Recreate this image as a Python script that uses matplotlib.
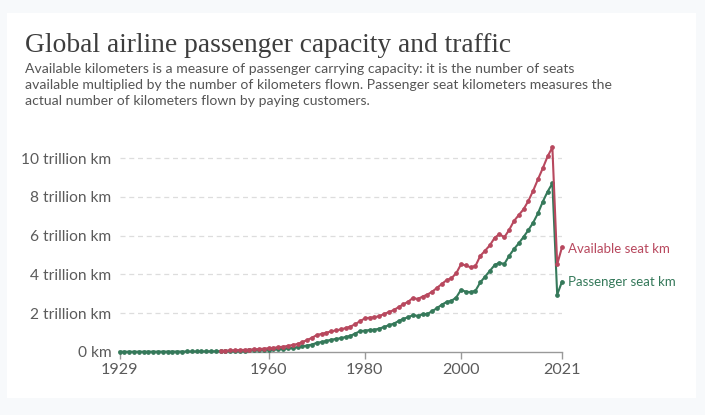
import matplotlib.pyplot as plt
from matplotlib.patches import Rectangle

# years 1929..2021
years = list(range(1929, 2022))

# passenger seat km, trillion km (1929-2021)
passenger_km = [
    0.001, 0.001, 0.002, 0.002, 0.003, 0.003, 0.004, 0.005, 0.006, 0.007,
    0.008, 0.009, 0.010, 0.010, 0.011, 0.012, 0.014, 0.017, 0.020, 0.022,
    0.025, 0.028, 0.035, 0.040, 0.047, 0.053, 0.061, 0.071, 0.081, 0.085,
    0.098, 0.109, 0.117, 0.130, 0.147, 0.171, 0.198, 0.229, 0.280, 0.320,
    0.366, 0.460, 0.500, 0.560, 0.620, 0.660, 0.700, 0.760, 0.820, 0.940,
    1.060, 1.090, 1.120, 1.140, 1.190, 1.280, 1.370, 1.450, 1.580, 1.700,
    1.780, 1.890, 1.850, 1.930, 1.950, 2.100, 2.250, 2.430, 2.570, 2.630,
    2.800, 3.200, 3.100, 3.080, 3.150, 3.580, 3.880, 4.180, 4.480, 4.600,
    4.530, 4.950, 5.300, 5.600, 5.930, 6.280, 6.670, 7.150, 7.750, 8.270,
    8.700, 2.950, 3.620,
]

# available seat km, trillion km (1950-2021)
available_years = list(range(1950, 2022))
available_km = [
    0.045, 0.055, 0.065, 0.075, 0.085, 0.095, 0.110, 0.125, 0.135, 0.160,
    0.180, 0.200, 0.230, 0.260, 0.300, 0.350, 0.400, 0.500, 0.600, 0.720,
    0.860, 0.920, 0.980, 1.050, 1.100, 1.150, 1.220, 1.300, 1.420, 1.580,
    1.720, 1.760, 1.780, 1.840, 1.950, 2.050, 2.150, 2.300, 2.450, 2.580,
    2.780, 2.720, 2.850, 2.950, 3.100, 3.300, 3.500, 3.700, 3.800, 4.050,
    4.520, 4.460, 4.360, 4.430, 4.950, 5.220, 5.500, 5.890, 6.080, 5.910,
    6.290, 6.750, 7.060, 7.360, 7.790, 8.320, 8.910, 9.480, 10.090, 10.560,
    4.520, 5.400,
]

x_ticks = [1929, 1960, 1980, 2000, 2021]
y_ticks = [0, 2, 4, 6, 8, 10]
y_labels = ['0 km', '2 trillion km', '4 trillion km', '6 trillion km',
            '8 trillion km', '10 trillion km']

red = '#b8485e'
green = '#35795a'
grey = '#5b5b5b'

W, H = 705, 415
fig = plt.figure(figsize=(W / 100, H / 100), dpi=100)
fig.patch.set_facecolor('#f7f9fb')
fig.patches.append(Rectangle((7 / W, 1 - 398 / H), 689 / W, 385 / H,
                             transform=fig.transFigure, facecolor='white',
                             edgecolor='none', zorder=-1))

fig.text(25 / W, 1 - 46 / H, 'Global airline passenger capacity and traffic',
         family='Liberation Serif', fontsize=19.8, color='#3d3d3d', va='center')
subtitle = ('Available kilometers is a measure of passenger carrying capacity: it is the number of seats\n'
            'available multiplied by the number of kilometers flown. Passenger seat kilometers measures the\n'
            'actual number of kilometers flown by paying customers.')
fig.text(25 / W, 1 - 63 / H, subtitle, family='Lato', fontsize=10.1,
         color='#555555', va='top', linespacing=1.42)

ax_left, ax_right = 119.6, 562
ax_bottom, ax_top = 351.7, 146.6
ax = fig.add_axes([ax_left / W, 1 - ax_bottom / H,
                   (ax_right - ax_left) / W, (ax_bottom - ax_top) / H])
ax.set_facecolor('none')
ax.set_zorder(2)

ax.plot(years, passenger_km, color=green, lw=1.5, marker='o', ms=2.4,
        clip_on=False, zorder=3)
ax.plot(available_years, available_km, color=red, lw=1.5, marker='o', ms=2.4,
        clip_on=False, zorder=4)

ax.set_xlim(1929, 2021)
ax.set_ylim(0, 10.6)

ax.set_yticks(y_ticks)
ax.set_yticklabels(y_labels, family='Lato', fontsize=11.2, color=grey)
ax.set_xticks(x_ticks)
ax.set_xticklabels([str(t) for t in x_ticks], family='Lato', fontsize=11.6, color=grey)
ax.tick_params(axis='y', length=0, pad=6)
ax.tick_params(axis='x', length=5, width=1, color='#999999', pad=3)

for v in y_ticks[1:]:
    ax.axhline(v, color='#dddddd', lw=0.9, ls=(0, (4, 3)), zorder=1)

for s in ['top', 'right', 'left']:
    ax.spines[s].set_visible(False)
ax.spines['bottom'].set_color('#999999')
ax.spines['bottom'].set_linewidth(1)

ax.annotate('Available seat km', xy=(available_years[-1], available_km[-1]),
            xytext=(4, -1), textcoords='offset points', xycoords='data',
            family='Lato', fontsize=9.5, color=red, va='center',
            annotation_clip=False)
ax.annotate('Passenger seat km', xy=(years[-1], passenger_km[-1]),
            xytext=(4, 0), textcoords='offset points', xycoords='data',
            family='Lato', fontsize=9.5, color=green, va='center',
            annotation_clip=False)

fig.savefig('out.png', dpi=100, facecolor=fig.get_facecolor())
